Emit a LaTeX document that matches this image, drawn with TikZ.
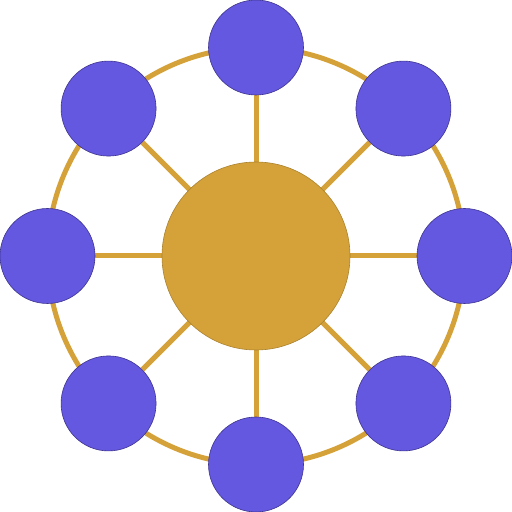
\documentclass[tikz,border=0pt]{standalone}
\usetikzlibrary{backgrounds,calc}
\definecolor{gold}{HTML}{D5A23A}
\definecolor{violet}{HTML}{6457E0}
\definecolor{violetedge}{HTML}{3E3590}
\tikzset{
  x=1pt,y=1pt,
  hub/.style={circle,fill=gold,draw=gold!80!black,line width=0.6pt,minimum size=188pt,inner sep=0pt},
  sat/.style={circle,fill=violet,draw=violetedge,line width=0.6pt,minimum size=95pt,inner sep=0pt},
  link/.style={draw=gold,line width=5pt},
}
\begin{document}
\begin{tikzpicture}
\useasboundingbox (0,0) rectangle (512,512);
\node[hub] (c) at (256,256) {};
\foreach \n/\a in {e/0,ne/45,n/90,nw/135,w/180,sw/225,s/270,se/315}{
  \node[sat] (\n) at ($(256,256)+(\a:208.5)$) {};
}
\begin{scope}[on background layer]
  \draw[link] (256,256) circle[radius=208.5];
  \foreach \n in {e,ne,n,nw,w,sw,s,se}{
    \draw[link] (c) -- (\n);
  }
\end{scope}
\end{tikzpicture}
\end{document}
